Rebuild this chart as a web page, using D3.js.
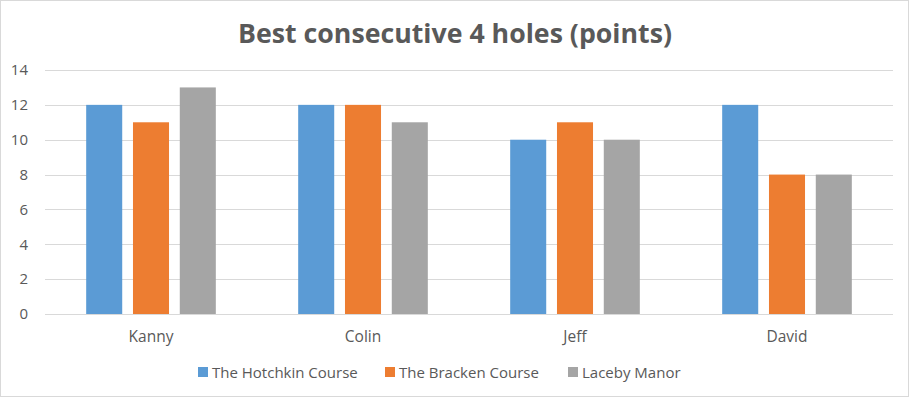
<!DOCTYPE html>
<html>
<head>
<meta charset="utf-8">
<script src="https://cdn.jsdelivr.net/npm/d3@7"></script>
<style>
  body { margin: 0; background: #fff; }
  text { font-family: "Open Sans", "Noto Sans", sans-serif; fill: #595959; }
</style>
</head>
<body>
<div id="chart"></div>
<script>
// chart data
var players = ["Kanny", "Colin", "Jeff", "David"];
var courses = ["The Hotchkin Course", "The Bracken Course", "Laceby Manor"];
var hotchkin = [12, 12, 10, 12];
var bracken = [11, 12, 11, 8];
var laceby = [13, 11, 10, 8];
var yTicks = [0, 2, 4, 6, 8, 10, 12, 14];
var colors = ["#5B9BD5", "#ED7D31", "#A5A5A5"];

var svgWidth = 909;
var svgHeight = 397;
var margin = { top: 70, right: 16, bottom: 83, left: 45 };
var width = svgWidth - margin.left - margin.right;
var height = svgHeight - margin.top - margin.bottom;

var svg = d3.select("#chart")
  .append("svg")
  .attr("width", svgWidth)
  .attr("height", svgHeight);

// outer border
svg.append("rect")
  .attr("x", 0.5).attr("y", 0.5)
  .attr("width", svgWidth - 1).attr("height", svgHeight - 1)
  .attr("fill", "#fff")
  .attr("stroke", "#d9d9d9");

svg.append("text")
  .attr("x", 455)
  .attr("y", 43)
  .attr("text-anchor", "middle")
  .attr("font-size", 27)
  .attr("font-weight", "bold")
  .attr("textLength", 434)
  .attr("lengthAdjust", "spacingAndGlyphs")
  .text("Best consecutive 4 holes (points)");

var chartGroup = svg.append("g")
  .attr("transform", `translate(${margin.left}, ${margin.top})`);

// rows for the grouped bars
var rows = players.map(function(p, i) {
  return { player: p, values: [hotchkin[i], bracken[i], laceby[i]] };
});

var x0 = d3.scaleBand().domain(players).range([0, width]);
var x1 = d3.scaleBand().domain(courses)
  .range([0, x0.bandwidth()])
  .paddingInner(0.23)
  .paddingOuter(0.88);
var y = d3.scaleLinear().domain([0, 14]).range([height, 0]);

// gridlines
chartGroup.append("g")
  .selectAll("line")
  .data(yTicks)
  .enter()
  .append("line")
  .attr("x1", 0)
  .attr("x2", width)
  .attr("y1", d => Math.round(y(d)) + 0.5)
  .attr("y2", d => Math.round(y(d)) + 0.5)
  .attr("stroke", "#d9d9d9");

// y labels
var leftAxis = d3.axisLeft(y).tickValues(yTicks).tickSize(0).tickPadding(17);
var yAxis = chartGroup.append("g").call(leftAxis);
yAxis.select(".domain").remove();
yAxis.selectAll("text")
  .attr("font-size", 15)
  .attr("fill", "#595959");

// bars
var groups = chartGroup.selectAll(".grp")
  .data(rows)
  .enter()
  .append("g")
  .attr("class", "grp")
  .attr("transform", d => `translate(${x0(d.player)}, 0)`);

groups.selectAll("rect")
  .data(d => d.values.map((v, j) => ({ course: courses[j], value: v, j: j })))
  .enter()
  .append("rect")
  .attr("x", d => x1(d.course))
  .attr("y", d => y(d.value))
  .attr("width", x1.bandwidth())
  .attr("height", d => height - y(d.value))
  .attr("fill", d => colors[d.j]);

// x axis
var bottomAxis = d3.axisBottom(x0).tickSize(0).tickPadding(17);
var xAxis = chartGroup.append("g")
  .attr("transform", `translate(0, ${height})`)
  .call(bottomAxis);
xAxis.select(".domain").remove();
xAxis.selectAll("text")
  .attr("font-size", 15.5)
  .attr("fill", "#595959");

// legend
var legendX = [198, 385, 568];
var legend = svg.append("g");
var items = legend.selectAll("g")
  .data(courses)
  .enter()
  .append("g")
  .attr("transform", (d, i) => `translate(${legendX[i]}, 373)`);

items.append("rect")
  .attr("x", 0).attr("y", -6)
  .attr("width", 10).attr("height", 10)
  .attr("fill", (d, i) => colors[i]);

items.append("text")
  .attr("x", 14)
  .attr("y", 5)
  .attr("font-size", 15)
  .text(d => d);
</script>
</body>
</html>
